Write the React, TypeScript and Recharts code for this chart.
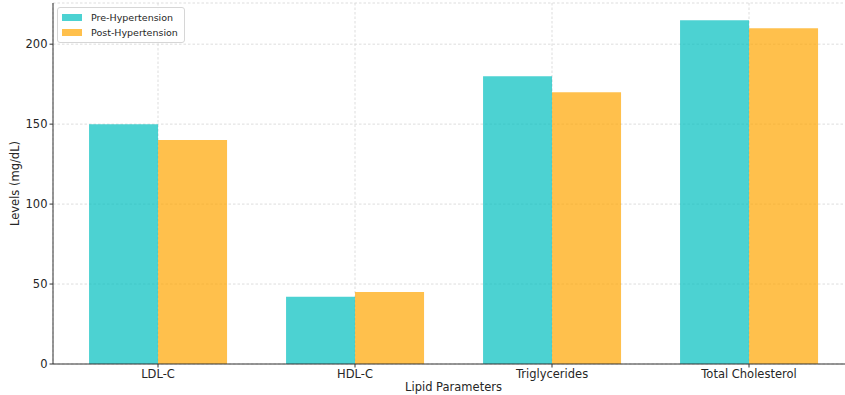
import React from 'react';
import {
    BarChart, Bar, XAxis, YAxis, CartesianGrid
} from 'recharts';

const categories = ['LDL-C', 'HDL-C', 'Triglycerides', 'Total Cholesterol'];
const preHypertension = [150, 42, 180, 215];
const postHypertension = [140, 45, 170, 210];
const yTicks = [0, 50, 100, 150, 200];

const PRE_COLOR = '#00bfbf';
const POST_COLOR = '#ffa500';
const FONT = '"DejaVu Sans", sans-serif';

const data = categories.map((name, i) => ({
    name,
    pre: preHypertension[i],
    post: postHypertension[i],
}));

// legend drawn as an overlay so it doesn't take space away from the plot
const LegendBox = () => (
    <div style={{
        position: 'absolute',
        left: 57,
        top: 7,
        background: 'rgba(255,255,255,0.85)',
        border: '1px solid #d6d6d6',
        borderRadius: 3,
        padding: '2px 6px 2px 4px',
        fontFamily: FONT,
        fontSize: 9.5,
        color: '#262626',
        lineHeight: '15px',
    }}>
        {[
            { label: 'Pre-Hypertension', color: PRE_COLOR },
            { label: 'Post-Hypertension', color: POST_COLOR },
        ].map(item => (
            <div key={item.label} style={{ display: 'flex', alignItems: 'center' }}>
                <span style={{
                    display: 'inline-block', width: 20, height: 7, marginRight: 9,
                    background: item.color, opacity: 0.7,
                }} />
                {item.label}
            </div>
        ))}
    </div>
);

export default function App() {
    return (
        <div style={{ position: 'fixed', left: 0, top: 0, width: 845, height: 395, overflow: 'hidden', background: '#fff' }}>
            <BarChart
                width={854}
                height={395}
                data={data}
                margin={{ top: 3, right: 0, bottom: 0, left: 0 }}
                barCategoryGap="15%"
                barGap={0}
            >
                <CartesianGrid stroke="#d4d4d4" strokeDasharray="2.5 2" strokeWidth={0.8} />
                <XAxis
                    dataKey="name"
                    padding={{ left: 6.5, right: 6.5 }}
                    height={31}
                    stroke="#333"
                    tickSize={3.5}
                    tickMargin={2}
                    tick={{ fill: '#262626', fontSize: 11.5, fontFamily: FONT }}
                />
                <YAxis
                    domain={[0, 225.75]}
                    ticks={yTicks}
                    width={53}
                    stroke="#333"
                    tickSize={3.5}
                    tickMargin={2}
                    tick={{ fill: '#262626', fontSize: 11.5, fontFamily: FONT }}
                    label={{ value: 'Levels (mg/dL)', angle: -90, position: 'insideLeft', offset: 15, fill: '#262626', fontSize: 11.5, fontFamily: FONT, style: { textAnchor: 'middle' } }}
                />
                <Bar dataKey="pre" name="Pre-Hypertension" fill={PRE_COLOR} fillOpacity={0.7} isAnimationActive={false} />
                <Bar dataKey="post" name="Post-Hypertension" fill={POST_COLOR} fillOpacity={0.7} isAnimationActive={false} />
            </BarChart>
            <div style={{
                position: 'absolute', left: 53, width: 801, top: 380, textAlign: 'center',
                fontFamily: FONT, fontSize: 11.5, color: '#262626', lineHeight: '14px',
            }}>
                Lipid Parameters
            </div>
            <LegendBox />
        </div>
    );
}
